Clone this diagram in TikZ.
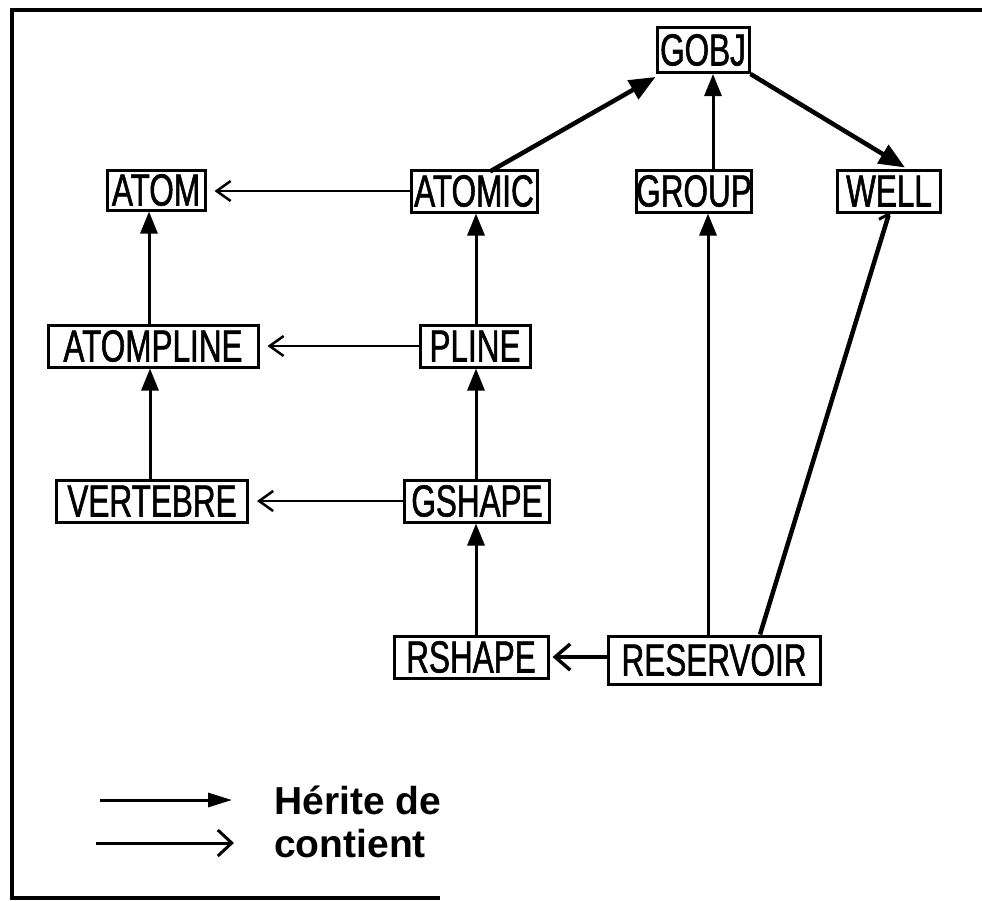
\documentclass[tikz,border=0pt]{standalone}
\usepackage{fontspec}
\setmainfont{Liberation Sans}
\newfontfamily\boxfont[FakeStretch=0.7,FakeBold=1.2]{Liberation Sans}
\usetikzlibrary{arrows.meta}
\tikzset{
  cls/.style={draw, line width=3pt, rectangle, inner sep=0pt, fill=white,
    font=\boxfont\fontsize{45}{45}\selectfont},
  inh/.style={line width=3pt, -{Triangle[length=22pt,width=17pt]}},
  inhthick/.style={line width=4.5pt, -{Triangle[length=26pt,width=21pt]}},
  cont/.style={line width=2.5pt, shorten >=8pt, -{Straight Barb[length=14pt,width=20pt,line width=2.5pt]}},
  contthick/.style={line width=4.5pt, shorten >=3pt, -{Straight Barb[length=15pt,width=26pt,line width=3.5pt]}},
  legtext/.style={anchor=base west, inner sep=0pt, font=\bfseries\fontsize{39}{39}\selectfont},
}
\begin{document}
\begin{tikzpicture}[x=1pt,y=-1pt]
\useasboundingbox (0,0) rectangle (982,900);
% frame
\draw[line width=4pt] (982,10) -- (12,10) -- (12,898) -- (440,898);
% nodes
\node[cls, minimum width=92pt, minimum height=45pt] (gobj) at (703,50) {GOBJ};
\node[cls, minimum width=98pt, minimum height=40pt] (atom) at (156,190) {ATOM};
\node[cls, minimum width=126pt, minimum height=42pt] (atomic) at (474,191) {ATOMIC};
\node[cls, minimum width=102pt, minimum height=42pt] (group) at (694,191) {GROUP};
\node[cls, minimum width=103pt, minimum height=42pt] (well) at (889,191) {WELL};
\node[cls, minimum width=210pt, minimum height=42pt] (atompline) at (153,346) {ATOMPLINE};
\node[cls, minimum width=110pt, minimum height=42pt] (pline) at (475,346) {PLINE};
\node[cls, minimum width=191pt, minimum height=42pt] (vertebre) at (152,501) {VERTEBRE};
\node[cls, minimum width=145pt, minimum height=42pt] (gshape) at (477,501) {GSHAPE};
\node[cls, minimum width=154pt, minimum height=42pt] (rshape) at (471,657) {RSHAPE};
\node[cls, minimum width=212pt, minimum height=48pt] (reservoir) at (714,660) {RESERVOIR};
% inheritance (filled heads)
\draw[inhthick] ([xshift=16pt,yshift=-3pt]atomic.north) -- ([yshift=-3pt]gobj.south west);
\draw[inh] ([xshift=19pt]group.north) -- ([xshift=19pt]group.north |- gobj.south);
\draw[inhthick] (gobj.south east) -- ([xshift=16pt,yshift=1pt]well.north);
\draw[inh] ([xshift=-4pt]atompline.north) -- ([xshift=-4pt]atompline.north |- atom.south);
\draw[inh] ([xshift=1pt]pline.north) -- ([xshift=1pt]pline.north |- atomic.south);
\draw[inh] ([xshift=-2pt]vertebre.north) -- ([xshift=-2pt]vertebre.north |- atompline.south);
\draw[inh] ([xshift=-1pt]gshape.north) -- ([xshift=-1pt]gshape.north |- pline.south);
\draw[inh] ([xshift=5pt]rshape.north) -- ([xshift=5pt]rshape.north |- gshape.south);
\draw[inh] ([xshift=-6pt]reservoir.north) -- ([xshift=-6pt]reservoir.north |- group.south);
% containment (open heads)
\draw[cont] (atomic.west) -- (atomic.west -| atom.east);
\draw[cont] (pline.west) -- (pline.west -| atompline.east);
\draw[cont] (gshape.west) -- (gshape.west -| vertebre.east);
\draw[contthick] (rshape.east -| reservoir.west) -- (rshape.east);
\draw[line width=4.5pt, -{Straight Barb[left,length=8pt,width=16pt,line width=3pt]}] ([xshift=46pt]reservoir.north) -- ([xshift=1pt,yshift=3pt]well.south);
% legend
\coordinate (l1a) at (100,800);
\coordinate (l1b) at (232,800);
\coordinate (l2a) at (96,843);
\coordinate (l2b) at (234,843);
\draw[line width=3pt, -{Triangle[length=24pt,width=14pt]}] (l1a) -- (l1b);
\draw[line width=3pt, -{Straight Barb[length=14pt,width=26pt,line width=3pt]}] (l2a) -- (l2b);
\node[legtext] (herite) at (274,814) {Hérite de};
\node[legtext] (contient) at (274,857) {contient};
\end{tikzpicture}
\end{document}
